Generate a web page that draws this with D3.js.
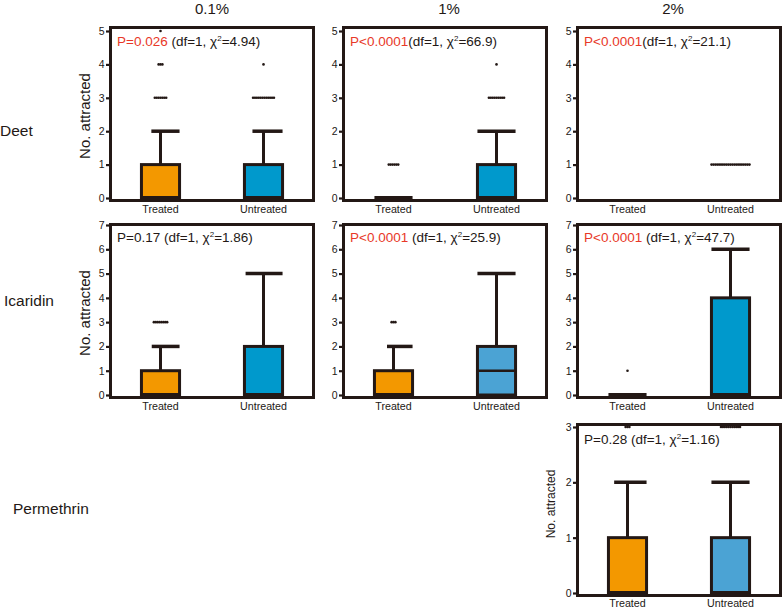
<!DOCTYPE html>
<html>
<head>
<meta charset="utf-8">
<script src="https://cdn.jsdelivr.net/npm/d3@7"></script>
<style>
  html, body { margin: 0; padding: 0; background: #fff; }
  svg { display: block; font-family: Arial, "Liberation Sans", sans-serif; }
</style>
</head>
<body>
<svg id="chart" width="783" height="608"></svg>
<script>
// ---------------- data ----------------
const colLabels = ["0.1%", "1%", "2%"];
const rowLabels = ["Deet", "Icaridin", "Permethrin"];
const groups = ["Treated", "Untreated"];
const rowYMax = [5, 7, 3];

// panel order: Deet 0.1/1/2, Icaridin 0.1/1/2, Permethrin 2
const panelRow = [0, 0, 0, 1, 1, 1, 2];
const panelCol = [0, 1, 2, 0, 1, 2, 2];

const pLabels = ["P=0.026", "P<0.0001", "P<0.0001", "P=0.17", "P<0.0001", "P<0.0001", "P=0.28"];
const pSignificant = [true, true, true, false, true, true, false];
const pGap = [true, false, false, true, true, true, true];
const chiSquare = ["4.94", "66.9", "21.1", "1.86", "25.9", "47.7", "1.16"];

// boxes: [q1, median, q3, upper whisker]; null = not drawn
const treatedBoxes = [[0, 0, 1, 2], [0, 0, 0, 0], null, [0, 0, 1, 2], [0, 0, 1, 2], [0, 0, 0, 0], [0, 0, 1, 2]];
const untreatedBoxes = [[0, 0, 1, 2], [0, 0, 1, 2], null, [0, 0, 2, 5], [0, 1, 2, 5], [0, 0, 4, 6], [0, 0, 1, 2]];

// outliers: [value, count]
const treatedOutliers = [[[3, 7], [4, 3], [5, 1]], [[1, 6]], [], [[3, 8]], [[3, 3]], [[1, 1]], [[3, 3]]];
const untreatedOutliers = [[[3, 12], [4, 1]], [[3, 9], [4, 1]], [[1, 21]], [], [], [], [[3, 11]]];

// ---------------- style / layout ----------------
const dark = "#231815";
const red = "#e83828";
const orange = "#f39800";
const untreatedColors = ["#0099cc", "#0099cc", "#0099cc", "#0099cc", "#4ba3d4", "#0099cc", "#4ba3d4"];
const treatedCapStart = [0.26, 0, 0, 0.27, 0.33, 0, 0.15];
const untreatedCapStart = [0.21, 0, 0, 0.03, 0, 0, 0];

const colX = [109, 342, 576];
const rowY = [26, 223, 423];
const panelW = 206;
const rowH = [176, 176, 174];
const rowTopPad = [5, 2, 4];
const rowLabelY = [131, 301, 509];
const catLabelGap = [10.5, 10.5, 9.5];
const boxFrac = 0.185;

const svg = d3.select("#chart");

// column titles
svg.selectAll("text.coltitle").data(colLabels).join("text")
  .attr("class", "coltitle")
  .attr("x", (d, i) => colX[i] + panelW / 2 + [0, 4, -6][i])
  .attr("y", 14)
  .attr("text-anchor", "middle")
  .attr("font-size", 15)
  .attr("fill", dark)
  .text(d => d);

// row labels
svg.selectAll("text.rowlabel").data(rowLabels).join("text")
  .attr("class", "rowlabel")
  .attr("x", (d, i) => [0, 4, 13][i])
  .attr("y", (d, i) => rowLabelY[i] + 5)
  .attr("font-size", 15.5)
  .attr("fill", dark)
  .text(d => d);

panelRow.forEach((r, i) => {
  const c = panelCol[i];
  const x0 = colX[c], y0 = rowY[r];
  const panelH = rowH[r];
  const g = svg.append("g");

  const y = d3.scaleLinear().domain([0, rowYMax[r]])
    .range([y0 + panelH - 4, y0 + rowTopPad[r]]);
  const x = d3.scalePoint().domain(groups).range([x0, x0 + panelW]).padding(0.5);
  const bw = panelW * boxFrac;

  // frame
  g.append("rect")
    .attr("x", x0 + 1.5).attr("y", y0 + 1.5)
    .attr("width", panelW - 3).attr("height", panelH - 3)
    .attr("fill", "none").attr("stroke", dark).attr("stroke-width", 3);

  // y axis
  const ax = g.append("g")
    .attr("transform", `translate(${x0},0)`)
    .call(d3.axisLeft(y).ticks(rowYMax[r]).tickFormat(d3.format("d")).tickSize(3).tickPadding(1.5));
  ax.select(".domain").remove();
  ax.selectAll(".tick line").attr("stroke", dark).attr("stroke-width", 2.2);
  ax.selectAll(".tick text").attr("fill", dark).attr("font-size", 10.5)
    .attr("font-family", "Arial, 'Liberation Sans', sans-serif");

  // y label
  if (c === 0 || r === 2) {
    const small = r === 2;
    g.append("text")
      .attr("transform", `translate(${small ? 555 : 90},${small ? 504 : (y0 + 90)}) rotate(-90)`)
      .attr("text-anchor", "middle")
      .attr("font-size", small ? 12 : 15)
      .attr("fill", dark)
      .text("No. attracted");
  }

  // category labels
  groups.forEach(gr => {
    g.append("text")
      .attr("x", x(gr)).attr("y", y0 + panelH + catLabelGap[r])
      .attr("text-anchor", "middle")
      .attr("font-size", 10.7)
      .attr("fill", dark)
      .text(gr);
  });

  // boxes
  const boxSpecs = [
    { gr: "Treated", b: treatedBoxes[i], fill: orange, cap: treatedCapStart[i], out: treatedOutliers[i] },
    { gr: "Untreated", b: untreatedBoxes[i], fill: untreatedColors[i], cap: untreatedCapStart[i], out: untreatedOutliers[i] }
  ];
  boxSpecs.forEach(s => {
    const cx = x(s.gr);
    const left = cx - bw / 2, right = cx + bw / 2;
    if (s.b) {
      const [q1, med, q3, hi] = s.b;
      if (hi > q3) {
        g.append("line")
          .attr("x1", cx).attr("x2", cx)
          .attr("y1", y(q3)).attr("y2", y(hi))
          .attr("stroke", dark).attr("stroke-width", 3);
        g.append("line")
          .attr("x1", left + s.cap * bw).attr("x2", right)
          .attr("y1", y(hi)).attr("y2", y(hi))
          .attr("stroke", dark).attr("stroke-width", 3.5);
      }
      g.append("rect")
        .attr("x", left).attr("y", y(q3))
        .attr("width", bw).attr("height", Math.max(0, y(q1) - y(q3)))
        .attr("fill", s.fill).attr("stroke", dark).attr("stroke-width", 3);
      g.append("line")
        .attr("x1", left).attr("x2", right)
        .attr("y1", y(med)).attr("y2", y(med))
        .attr("stroke", dark).attr("stroke-width", med === q1 ? 4 : 2.5);
    }
    s.out.forEach(([v, n]) => {
      const step = 1.9;
      const start = cx - (n - 1) * step / 2;
      g.selectAll(null).data(d3.range(n)).join("circle")
        .attr("cx", k => start + k * step)
        .attr("cy", y(v))
        .attr("r", 1.3)
        .attr("fill", dark);
    });
  });

  // annotation
  const t = g.append("text")
    .attr("x", x0 + 8).attr("y", y0 + [20, 19, 21][r])
    .attr("font-size", 13.5)
    .attr("fill", dark);
  t.append("tspan").attr("fill", pSignificant[i] ? red : dark).text(pLabels[i]);
  t.append("tspan").text((pGap[i] ? " " : "") + "(df=1, χ");
  t.append("tspan").attr("font-size", 8).attr("dy", -5).text("2");
  t.append("tspan").attr("dy", 5).text("=" + chiSquare[i] + ")");
});
</script>
</body>
</html>
